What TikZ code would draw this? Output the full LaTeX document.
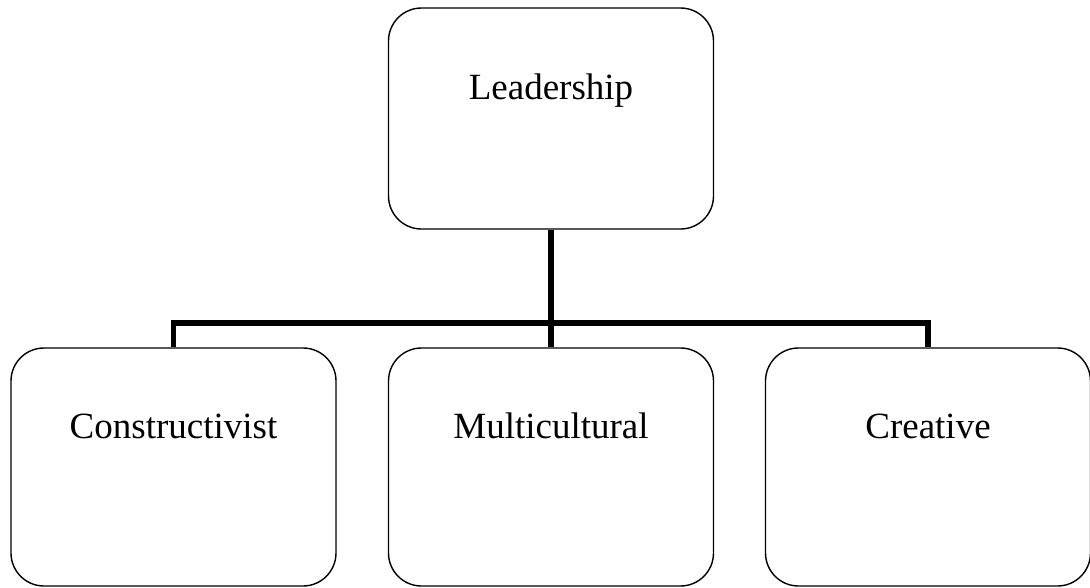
\documentclass[tikz,border=0pt]{standalone}
\usepackage{fontspec}
\setmainfont{Liberation Serif}
\begin{document}
\begin{tikzpicture}[x=1pt,y=-1pt,
  box/.style={draw=black, line width=1.4pt, rounded corners=33pt, fill=white,
    minimum width=325pt, inner sep=0pt},
  topbox/.style={box, minimum height=221pt},
  leafbox/.style={box, minimum height=238pt},
  boxtext/.style={font=\fontsize{37}{44}\selectfont, anchor=base, inner sep=0pt},
  conn/.style={draw=black, line width=5.5pt}]
  \useasboundingbox (0,0) rectangle (1090,587);

  % root and children
  \node[topbox]  (lead)  at (551,118.5) {};
  \node[leafbox] (cons)  at (173.5,467) {};
  \node[leafbox] (multi) at (551,467) {};
  \node[leafbox] (crea)  at (928,467) {};

  % labels, set near the top of each box
  \node[boxtext] (leadT)  at (551,99)   {Leadership};
  \node[boxtext] (consT)  at (173.5,438) {Constructivist};
  \node[boxtext] (multiT) at (551,438)  {Multicultural};
  \node[boxtext] (creaT)  at (928,438)  {Creative};

  % connectors: trunk and horizontal bus
  \coordinate (bus) at (551,323);
  \draw[conn] (lead.south) -- (multi.north);
  \draw[conn] (cons.north) -- (cons.north |- bus) -- (crea.north |- bus) -- (crea.north);
\end{tikzpicture}
\end{document}
